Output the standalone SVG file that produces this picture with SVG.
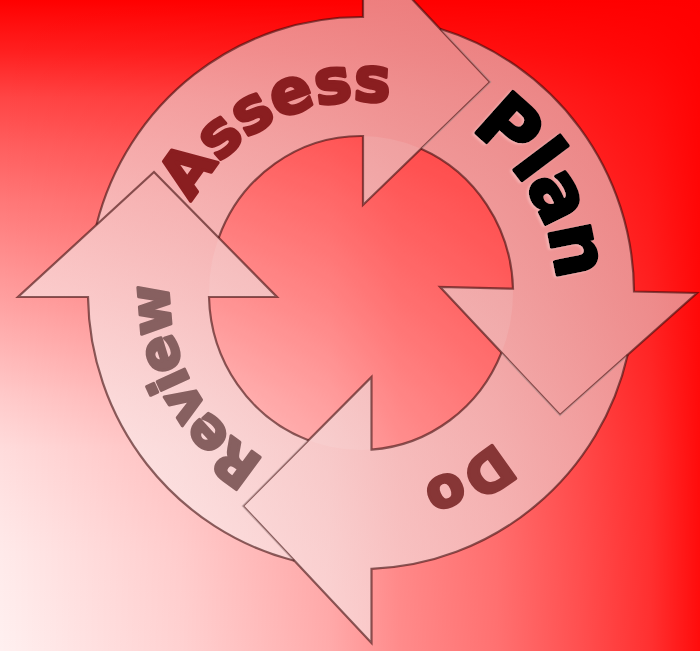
<svg xmlns="http://www.w3.org/2000/svg" width="700" height="651" viewBox="0 0 700 651">
<defs>
<linearGradient id="bgV" x1="0" y1="0" x2="0" y2="651" gradientUnits="userSpaceOnUse">
<stop offset="0" stop-color="#ff0000"/>
<stop offset="0.08" stop-color="#ff2020"/>
<stop offset="0.15" stop-color="#ff4545"/>
<stop offset="0.23" stop-color="#ff6060"/>
<stop offset="0.31" stop-color="#ff7878"/>
<stop offset="0.46" stop-color="#ffa0a0"/>
<stop offset="0.61" stop-color="#ffcaca"/>
<stop offset="0.69" stop-color="#ffdcdc"/>
<stop offset="0.85" stop-color="#ffeaea"/>
<stop offset="1" stop-color="#fff0f0"/>
</linearGradient>
<linearGradient id="bgH" x1="0" y1="0" x2="700" y2="0" gradientUnits="userSpaceOnUse">
<stop offset="0" stop-color="#ff0000" stop-opacity="0"/>
<stop offset="0.26" stop-color="#ff0000" stop-opacity="0.13"/>
<stop offset="0.47" stop-color="#ff0000" stop-opacity="0.29"/>
<stop offset="0.57" stop-color="#ff0000" stop-opacity="0.42"/>
<stop offset="0.71" stop-color="#ff0000" stop-opacity="0.53"/>
<stop offset="0.83" stop-color="#ff0000" stop-opacity="0.67"/>
<stop offset="0.93" stop-color="#ff0000" stop-opacity="0.8"/>
<stop offset="1" stop-color="#ff0000" stop-opacity="0.95"/>
</linearGradient>
<linearGradient id="arrowFill" x1="80" y1="560" x2="620" y2="80" gradientUnits="userSpaceOnUse">
<stop offset="0" stop-color="#fff4f4"/>
<stop offset="1" stop-color="#dccccc"/>
</linearGradient>
<filter id="glow" x="-20%" y="-20%" width="140%" height="140%">
<feDropShadow dx="-2" dy="1" stdDeviation="1" flood-color="#ffd8d8" flood-opacity="0.45"/>
</filter>
<path id="tpA" d="M 361,485 A 192 192 0 1 1 361,101 A 192 192 0 1 1 361,485"/>
<path id="tpP" d="M 361,489 A 196 196 0 1 1 361,97 A 196 196 0 1 1 361,489"/>
<path id="tpD" d="M 361,493 A 200 200 0 1 1 361,93 A 200 200 0 1 1 361,493"/>
</defs>
<style>
.fill{fill:url(#arrowFill);fill-opacity:0.6;stroke:none}
.edge{fill:none;stroke:#3c0c0c;stroke-opacity:0.6;stroke-width:2.2;stroke-linejoin:miter}
.lbl{font-family:"DejaVu Sans","Liberation Sans",sans-serif;font-weight:bold;stroke-linejoin:round}
</style>
<rect width="700" height="651" fill="url(#bgV)"/>
<rect width="700" height="651" fill="url(#bgH)"/>
<ellipse cx="361" cy="293" rx="152" ry="157" fill="#ffffff" fill-opacity="0.12"/>

<g id="assess">
<path class="fill" d="M 96.5,224.8 A 273 276 0 0 1 363,17 L 363,-53 L 490,82 L 363,205 L 363,136 A 152 157 0 0 0 218.7,237.8 L 154,172 Z"/>
<path class="edge" d="M 96.5,224.8 A 273 276 0 0 1 363,17 L 363,-53 L 490,82 L 363,205 L 363,136 A 152 157 0 0 0 218.7,237.8"/>
<text class="lbl" font-size="62" fill="#8a1e20" stroke="#8a1e20" stroke-width="3.2"><textPath href="#tpA" startOffset="514" text-anchor="middle" textLength="236" lengthAdjust="spacing">Assess</textPath></text>
</g>

<g id="plan">
<path class="fill" d="M 440,28.8 A 273 276 0 0 1 634,291.5 L 697,293 L 560,415 L 440,287 L 513,288.7 A 152 157 0 0 0 421,148.8 L 490,82 Z"/>
<path class="edge" d="M 440,28.8 A 273 276 0 0 1 634,291.5 L 697,293 L 560,415 L 440,287 L 513,288.7 A 152 157 0 0 0 421,148.8"/>
<text class="lbl" font-size="76" fill="#000000" stroke="#000000" stroke-width="3.5" filter="url(#glow)"><textPath href="#tpP" startOffset="821" text-anchor="middle" textLength="181" lengthAdjust="spacing">Plan</textPath></text>
</g>

<g id="do">
<path class="fill" d="M 627.7,354.7 A 273 276 0 0 1 371.5,568.8 L 371.5,643 L 243,506 L 371.5,377 L 371.5,449.6 A 152 157 0 0 0 501.5,352.6 L 560,415 Z"/>
<path class="edge" d="M 627.7,354.7 A 273 276 0 0 1 371.5,568.8 L 371.5,643 L 243,506 L 371.5,377 L 371.5,449.6 A 152 157 0 0 0 501.5,352.6"/>
<text class="lbl" font-size="56" fill="#873636" stroke="#873636" stroke-width="3"><textPath href="#tpD" startOffset="1152" text-anchor="middle" textLength="86" lengthAdjust="spacing">Do</textPath></text>
</g>

<g id="review">
<path class="fill" d="M 294.3,560.7 A 273 276 0 0 1 88,297 L 18,297 L 154,172 L 277,297 L 209,297 A 152 157 0 0 0 308.4,440.3 L 243,506 Z"/>
<path class="edge" d="M 294.3,560.7 A 273 276 0 0 1 88,297 L 18,297 L 154,172 L 277,297 L 209,297 A 152 157 0 0 0 308.4,440.3"/>
<text class="lbl" font-size="55" fill="#876060" stroke="#876060" stroke-width="3"><textPath href="#tpA" startOffset="206" text-anchor="middle" textLength="211" lengthAdjust="spacing">Review</textPath></text>
</g>
</svg>
